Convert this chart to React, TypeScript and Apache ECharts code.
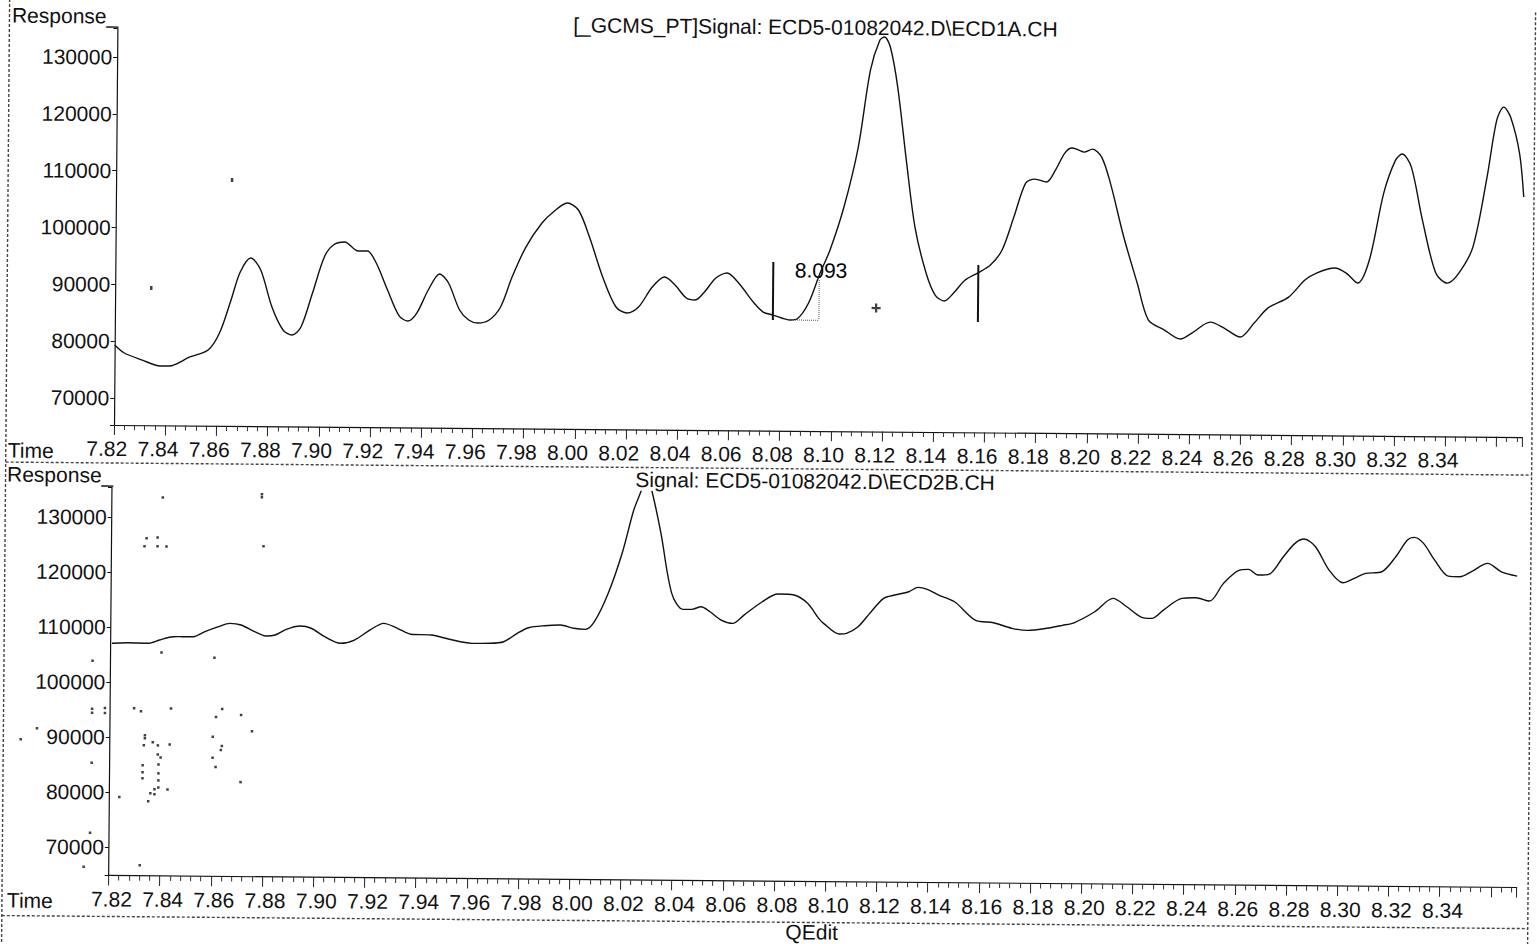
import React, { useEffect, useRef } from 'react';
import * as echarts from 'echarts';

// ---- Channel A (ECD1A) ----
const timeA = [
  7.8200, 7.8238, 7.8308, 7.8379, 7.8414, 7.8494, 7.8565, 7.8609, 7.8653, 7.8688,
  7.8729, 7.8768, 7.8813, 7.8857, 7.8892, 7.8927, 7.8971, 7.9016, 7.9051, 7.9095,
  7.9148, 7.9184, 7.9219, 7.9264, 7.9308, 7.9343, 7.9379, 7.9423, 7.9467, 7.9502,
  7.9546, 7.9582, 7.9617, 7.9662, 7.9706, 7.9750, 7.9803, 7.9865, 7.9909, 7.9963,
  8.0007, 8.0051, 8.0104, 8.0157, 8.0201, 8.0245, 8.0298, 8.0346, 8.0387, 8.0431,
  8.0466, 8.0502, 8.0546, 8.0590, 8.0635, 8.0696, 8.0732, 8.0771, 8.0838, 8.0864,
  8.0909, 8.0953, 8.0991, 8.1044, 8.1098, 8.1143, 8.1179, 8.1197, 8.1220, 8.1250,
  8.1286, 8.1322, 8.1367, 8.1403, 8.1439, 8.1475, 8.1520, 8.1568, 8.1618, 8.1663,
  8.1708, 8.1753, 8.1789, 8.1834, 8.1869, 8.1905, 8.1932, 8.1959, 8.1980, 8.2013,
  8.2049, 8.2084, 8.2138, 8.2192, 8.2237, 8.2300, 8.2362, 8.2407, 8.2479, 8.2533,
  8.2596, 8.2650, 8.2703, 8.2784, 8.2847, 8.2892, 8.2963, 8.3008, 8.3053, 8.3098,
  8.3152, 8.3197, 8.3223, 8.3259, 8.3304, 8.3358, 8.3403, 8.3448, 8.3502, 8.3555,
  8.3591, 8.3618, 8.3645, 8.3681, 8.3699,
];
const respA = [
  79300, 77900, 76690, 75670, 75680, 77300, 78550, 81560, 87390, 92330,
  94815, 92720, 86220, 82190, 81320, 82740, 88750, 95100, 97230, 97770,
  96210, 96220, 94120, 89390, 85000, 83960, 85380, 89450, 92280, 90710,
  85970, 84230, 83710, 84260, 86560, 91860, 97160, 101410, 103370, 104970,
  103760, 99020, 92000, 86740, 85700, 86770, 90310, 92090, 90700, 88420,
  88090, 89510, 91990, 92890, 91140, 87650, 86070, 85560, 84710, 84890,
  87730, 93030, 97090, 104680, 115270, 128840, 134130, 134670, 132920, 125890,
  113050, 101270, 93180, 89330, 88280, 89700, 92010, 93260, 94690, 97350,
  103170, 109180, 109890, 109390, 111510, 114520, 115410, 115070, 114720, 115260,
  113870, 109300, 99820, 91740, 85240, 83510, 81950, 83020, 84980, 83950,
  82390, 84870, 87530, 89500, 92520, 93770, 94680, 93810, 92070, 96140,
  107950, 113780, 114850, 112570, 103260, 93950, 92200, 93980, 98580, 110920,
  120970, 123270, 121520, 115200, 107460,
];

// ---- Channel B (ECD2B) ----
const timeB = [
  7.8205, 7.8267, 7.8346, 7.8391, 7.8444, 7.8479, 7.8523, 7.8568, 7.8621, 7.8665,
  7.8709, 7.8762, 7.8806, 7.8842, 7.8886, 7.8939, 7.8983, 7.9036, 7.9098, 7.9152,
  7.9213, 7.9266, 7.9320, 7.9373, 7.9452, 7.9523, 7.9611, 7.9682, 7.9735, 7.9788,
  7.9832, 7.9894, 7.9956, 8.0009, 8.0054, 8.0089, 8.0142, 8.0195, 8.0239, 8.0266,
  8.0288, 8.0310, 8.0346, 8.0390, 8.0434, 8.0469, 8.0505, 8.0540, 8.0584, 8.0629,
  8.0673, 8.0744, 8.0805, 8.0868, 8.0921, 8.0965, 8.0984, 8.1047, 8.1074, 8.1119,
  8.1164, 8.1218, 8.1262, 8.1316, 8.1352, 8.1388, 8.1433, 8.1495, 8.1576, 8.1648,
  8.1720, 8.1782, 8.1845, 8.1917, 8.1962, 8.2043, 8.2114, 8.2168, 8.2222, 8.2266,
  8.2311, 8.2383, 8.2437, 8.2491, 8.2545, 8.2607, 8.2643, 8.2679, 8.2724, 8.2778,
  8.2823, 8.2859, 8.2903, 8.2957, 8.3011, 8.3056, 8.3100, 8.3163, 8.3217, 8.3262,
  8.3289, 8.3325, 8.3369, 8.3423, 8.3468, 8.3513, 8.3576, 8.3630, 8.3692,
];
const respB = [
  107040, 107170, 107090, 107710, 108330, 108350, 108360, 109290, 110220, 110850,
  110570, 109370, 108600, 108800, 109850, 110470, 110080, 108570, 107390, 108010,
  109860, 111090, 110210, 109140, 109040, 108290, 107590, 107620, 107930, 109480,
  110510, 110910, 111060, 110480, 110310, 111710, 116890, 124190, 132070, 135410,
  138500, 135430, 127880, 116990, 114100, 114110, 114600, 113700, 112210, 111630,
  113150, 115600, 117030, 116870, 115380, 112670, 111770, 109850, 109990, 111210,
  113660, 116410, 117030, 117650, 118460, 118120, 117090, 115900, 112600, 112140,
  111160, 110810, 111130, 111780, 112260, 114300, 116760, 115260, 113460, 113180,
  114710, 116870, 117000, 116420, 119660, 122100, 122240, 121230, 121420, 124590,
  127040, 127840, 126460, 122240, 119960, 120780, 121690, 122020, 124760, 127820,
  128320, 127240, 124220, 121330, 121230, 122160, 123700, 122200, 121440,
];

// ---- integration annotation on channel A ----
const cutTimes = [8.077, 8.1571];
const cutTop = [94890, 94670];
const cutBottom = [84680, 84640];
const baselineTimes = [8.0841, 8.095];
const baselineResp = 84710;
const dropTopResp = 91790;
const peakLabelPoint = [8.0852, 93520];
const peakLabelText = '8.093';
const cursorPoint = [8.1173, 86950];

// ---- scan specks ----
const specksA = [[7.8653, 108510], [7.8341, 89380]];
const specksB = [
  [7.8399, 133640], [7.8786, 134360], [7.8786, 133820], [7.8337, 126180], [7.8329, 124730],
  [7.838, 126360], [7.838, 124730], [7.8415, 124730], [7.8794, 124910], [7.8399, 105460],
  [7.813, 103820], [7.8606, 104550], [7.8294, 95280], [7.8321, 94730], [7.8438, 95280],
  [7.813, 95100], [7.813, 94370], [7.818, 95280], [7.818, 94370], [7.8638, 95280],
  [7.8614, 93820], [7.8712, 94190], [7.8755, 91280], [7.7852, 89460], [7.7915, 91460],
  [7.8337, 90370], [7.8337, 89820], [7.8333, 88550], [7.8368, 89100], [7.8388, 88550],
  [7.8434, 88730], [7.8602, 90190], [7.8638, 88550], [7.8634, 87820], [7.8399, 86370],
  [7.8388, 86910], [7.8329, 84910], [7.8329, 83640], [7.8329, 82550], [7.8391, 85090],
  [7.8391, 83460], [7.8391, 82190], [7.8391, 80910], [7.8376, 80550], [7.836, 79820],
  [7.8376, 79640], [7.8352, 78370], [7.8427, 80550], [7.8239, 79100], [7.8614, 84730],
  [7.8602, 86370], [7.8712, 82000], [7.8126, 72550], [7.813, 85280], [7.8321, 66730],
  [7.8102, 66370],
];

const titleA = '[_GCMS_PT]Signal: ECD5-01082042.D\\ECD1A.CH';
const titleB = 'Signal: ECD5-01082042.D\\ECD2B.CH';
const yAxisName = 'Response_';
const xAxisName = 'Time';
const footer = 'QEdit';

const FONT = '"Liberation Sans", Arial, Helvetica, sans-serif';
const INK = '#111';
const TILT_DEG = 0.49;

const xLabel = (v: number) => {
  if (v > 8.345) return '';
  return Math.abs(v * 50 - Math.round(v * 50)) < 1e-6 ? v.toFixed(2) : '';
};
const yLabel = (v: number) => (Math.abs(v / 10000 - Math.round(v / 10000)) < 1e-6 ? String(Math.round(v)) : '');

function makeX(gridIndex: number, padding: number[]) {
  return {
    type: 'value',
    gridIndex,
    min: 7.82,
    max: 8.37,
    splitNumber: 27,
    minInterval: 0.02,
    maxInterval: 0.02,
    axisLine: { show: true, onZero: false, lineStyle: { color: INK, width: 1.2 } },
    axisTick: { show: true, length: 10, lineStyle: { color: '#222', width: 1 } },
    minorTick: { show: true, splitNumber: 5, length: 5, lineStyle: { color: '#333', width: 1 } },
    splitLine: { show: false },
    minorSplitLine: { show: false },
    axisLabel: {
      fontSize: 21,
      fontFamily: FONT,
      color: INK,
      margin: 13,
      padding,
      formatter: xLabel,
    },
  };
}

function makeY(gridIndex: number, min: number, max: number) {
  return {
    type: 'value',
    gridIndex,
    min,
    max,
    splitNumber: 7,
    minInterval: 10000,
    maxInterval: 10000,
    axisLine: { show: true, onZero: false, lineStyle: { color: INK, width: 1.2 } },
    axisTick: { show: true, length: 4, lineStyle: { color: INK } },
    splitLine: { show: false },
    axisLabel: { fontSize: 21, fontFamily: FONT, color: INK, margin: 5, formatter: yLabel },
  };
}

function txt(text: string, x: number, y: number, align: string) {
  return {
    type: 'text',
    silent: true,
    style: {
      text,
      x,
      y,
      fill: INK,
      fontSize: 21,
      fontFamily: FONT,
      align,
      textAlign: align,
      verticalAlign: 'middle',
      textVerticalAlign: 'middle',
    },
  };
}

function dashed(x1: number, y1: number, x2: number, y2: number) {
  return {
    type: 'line',
    silent: true,
    shape: { x1, y1, x2, y2 },
    style: { stroke: '#444', lineWidth: 1.4, lineDash: [3, 2] },
  };
}

export default function App() {
  const ref = useRef<HTMLDivElement>(null);

  useEffect(() => {
    if (!ref.current) return;
    const chart = echarts.init(ref.current, undefined, { renderer: 'svg' });

    const seriesA = timeA.map((t, i) => [t, respA[i]]);
    const seriesB = timeB.map((t, i) => [t, respB[i]]);

    const cutSeries = cutTimes.map((t, i) => ({
      type: 'line',
      xAxisIndex: 0,
      yAxisIndex: 0,
      silent: true,
      showSymbol: false,
      data: [[t, cutTop[i]], [t, cutBottom[i]]],
      lineStyle: { color: INK, width: 2 },
    }));

    const option: any = {
      animation: false,
      backgroundColor: '#fff',
      grid: [
        { left: 114, top: 28, width: 1408, height: 397 },
        { left: 112.5, top: 487, width: 1408, height: 388.5 },
      ],
      xAxis: [makeX(0, [0, 14, 0, 0]), makeX(1, [0, 0, 0, 6])],
      yAxis: [makeY(0, 65210, 135106), makeY(1, 64824, 135454)],
      series: [
        {
          name: 'ECD1A',
          type: 'line',
          xAxisIndex: 0,
          yAxisIndex: 0,
          data: seriesA,
          showSymbol: false,
          smooth: 0.3,
          silent: true,
          lineStyle: { color: INK, width: 1.4 },
        },
        {
          name: 'ECD2B',
          type: 'line',
          xAxisIndex: 1,
          yAxisIndex: 1,
          data: seriesB,
          showSymbol: false,
          smooth: 0.3,
          silent: true,
          lineStyle: { color: INK, width: 1.4 },
        },
        ...cutSeries,
        {
          type: 'line',
          xAxisIndex: 0,
          yAxisIndex: 0,
          silent: true,
          showSymbol: false,
          data: [[baselineTimes[0], baselineResp], [baselineTimes[1], baselineResp]],
          lineStyle: { color: '#555', width: 1, type: 'dotted' },
        },
        {
          type: 'line',
          xAxisIndex: 0,
          yAxisIndex: 0,
          silent: true,
          showSymbol: false,
          data: [[baselineTimes[1], dropTopResp], [baselineTimes[1], baselineResp]],
          lineStyle: { color: '#555', width: 1, type: 'dotted' },
        },
        {
          type: 'scatter',
          xAxisIndex: 0,
          yAxisIndex: 0,
          silent: true,
          symbolSize: 1,
          itemStyle: { color: '#fff', opacity: 1 },
          data: [peakLabelPoint],
          label: {
            show: true,
            position: 'right',
            distance: 0,
            formatter: peakLabelText,
            fontSize: 21,
            fontFamily: FONT,
            color: '#000',
            opacity: 1,
          },
        },
        {
          type: 'scatter',
          xAxisIndex: 0,
          yAxisIndex: 0,
          silent: true,
          symbol: 'path://M3,0H5V3H8V5H5V8H3V5H0V3H3Z',
          symbolSize: 9,
          itemStyle: { color: INK },
          data: [cursorPoint],
        },
        {
          type: 'scatter',
          xAxisIndex: 0,
          yAxisIndex: 0,
          silent: true,
          clip: false,
          symbol: 'rect',
          symbolSize: [2.5, 4],
          itemStyle: { color: '#111' },
          data: specksA,
        },
        {
          type: 'scatter',
          xAxisIndex: 1,
          yAxisIndex: 1,
          silent: true,
          clip: false,
          symbol: 'rect',
          symbolSize: 2.5,
          itemStyle: { color: '#111' },
          data: specksB,
        },
      ],
      graphic: [
        dashed(6, 0, 6, 944),
        dashed(1532, 0, 1532, 944),
        dashed(6, 463, 1532, 463),
        dashed(6, 916.5, 1532, 916.5),
        txt(yAxisName, 8.5, 16, 'left'),
        txt(titleA, 812, 21, 'center'),
        txt(xAxisName, 8, 451, 'left'),
        txt(yAxisName, 7.5, 475, 'left'),
        txt(titleB, 815.5, 475, 'center'),
        txt(xAxisName, 11, 901, 'left'),
        txt(footer, 816, 926, 'center'),
      ],
    };

    chart.setOption(option);
    return () => chart.dispose();
  }, []);

  return (
    <div
      ref={ref}
      style={{
        position: 'absolute',
        left: 0,
        top: 0,
        width: 1537,
        height: 944,
        background: '#fff',
        transform: `rotate(${TILT_DEG}deg)`,
        transformOrigin: '114px 425px',
      }}
    />
  );
}
